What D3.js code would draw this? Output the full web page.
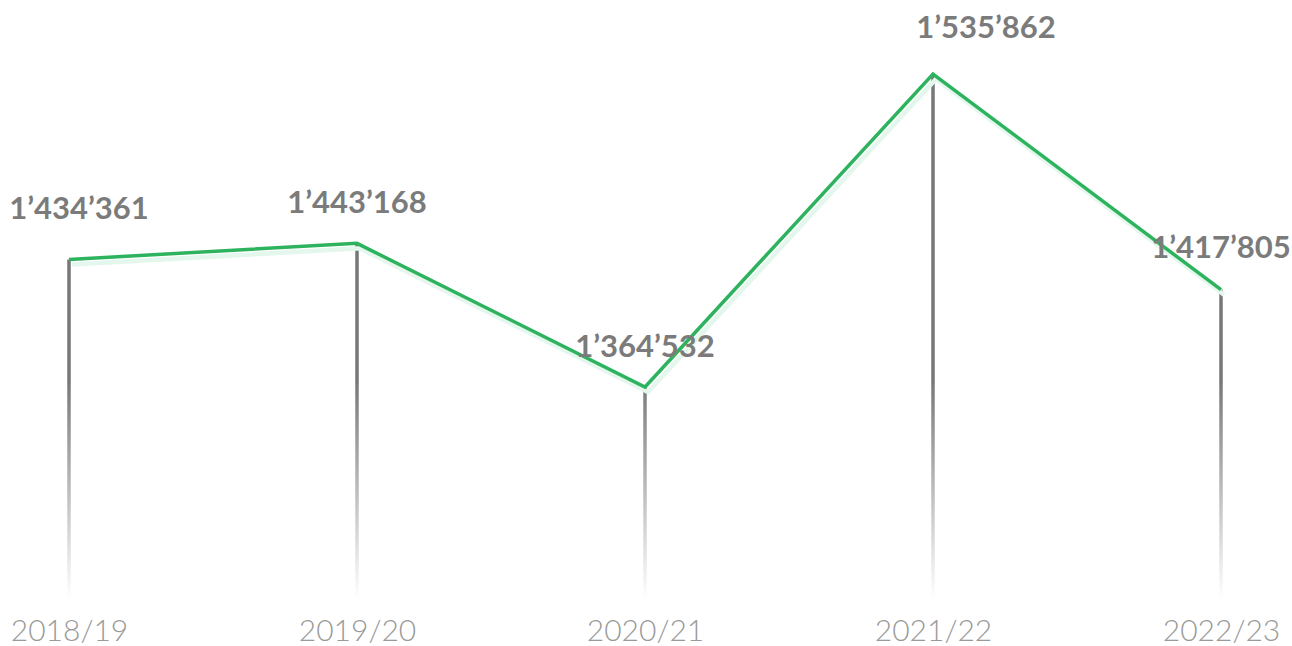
<!DOCTYPE html>
<html>
<head>
<meta charset="utf-8">
<script src="https://cdn.jsdelivr.net/npm/d3@7"></script>
<style>
  html, body { margin: 0; padding: 0; background: #fff; }
  svg { display: block; }
  .value-label { font-family: Lato, sans-serif; font-weight: 700; font-size: 31px; fill: #7b7b7b; }
  .year-label { font-family: Lato, sans-serif; font-weight: 300; font-size: 30px; fill: #9a9a9a; }
</style>
</head>
<body>
<svg class="graph"></svg>
<script>
const years = ['2018/19', '2019/20', '2020/21', '2021/22', '2022/23']
const visitors = [1434361, 1443168, 1364532, 1535862, 1417805]
const valueLabels = ["1’434’361", "1’443’168", "1’364’532", "1’535’862", "1’417’805"]

// label nudges, matches where the original placed them
const labelDx = [10, 0, 0, 53, 0]
const labelDy = [-40, -30, -30, -36, -32]

const width = 1292
const height = 646

const svg = d3.select('.graph').attr('width', width).attr('height', height)

const x = d3.scalePoint().domain(years).range([69, 1221])
const y = d3.scaleLinear()
    .domain([d3.min(visitors), d3.max(visitors)])
    .range([387, 74])

const data = years.map((year, i) => ({ year, value: visitors[i], label: valueLabels[i] }))

const defs = svg.append('defs')
const grad = defs.append('linearGradient')
    .attr('id', 'fade')
    .attr('gradientUnits', 'userSpaceOnUse')
    .attr('x1', 0).attr('x2', 0)
    .attr('y1', 380).attr('y2', 598)
grad.append('stop').attr('offset', '0%').attr('stop-color', '#777')
grad.append('stop').attr('offset', '100%').attr('stop-color', '#fff')

// stems
svg.selectAll('line.stem').data(data).enter()
    .append('line')
    .attr('class', 'stem')
    .attr('x1', d => x(d.year))
    .attr('x2', d => x(d.year))
    .attr('y1', d => y(d.value))
    .attr('y2', 598)
    .attr('stroke', 'url(#fade)')
    .attr('stroke-width', 3.5)

const line = d3.line().x(d => x(d.year)).y(d => y(d.value))

// soft shadow under the line
svg.append('path')
    .datum(data)
    .attr('d', line)
    .attr('transform', 'translate(3,5)')
    .attr('fill', 'none')
    .attr('stroke', '#e4f7ec')
    .attr('stroke-width', 4.5)

svg.append('path')
    .datum(data)
    .attr('d', line)
    .attr('fill', 'none')
    .attr('stroke', '#2db35e')
    .attr('stroke-width', 3.5)
    .attr('stroke-linejoin', 'miter')

svg.selectAll('text.value-label').data(data).enter()
    .append('text')
    .attr('class', 'value-label')
    .attr('text-anchor', 'middle')
    .attr('x', (d, i) => x(d.year) + labelDx[i])
    .attr('y', (d, i) => y(d.value) + labelDy[i])
    .text(d => d.label)

const xAxis = svg.append('g')
    .attr('transform', 'translate(0,641)')
    .call(d3.axisBottom(x).tickSize(0).tickPadding(0))
xAxis.select('.domain').remove()
xAxis.selectAll('text')
    .attr('class', 'year-label')
    .attr('dy', 0)
    .attr('y', 0)
    .attr('fill', null)
    .attr('font-size', null)
    .attr('font-family', null)
</script>
</body>
</html>
